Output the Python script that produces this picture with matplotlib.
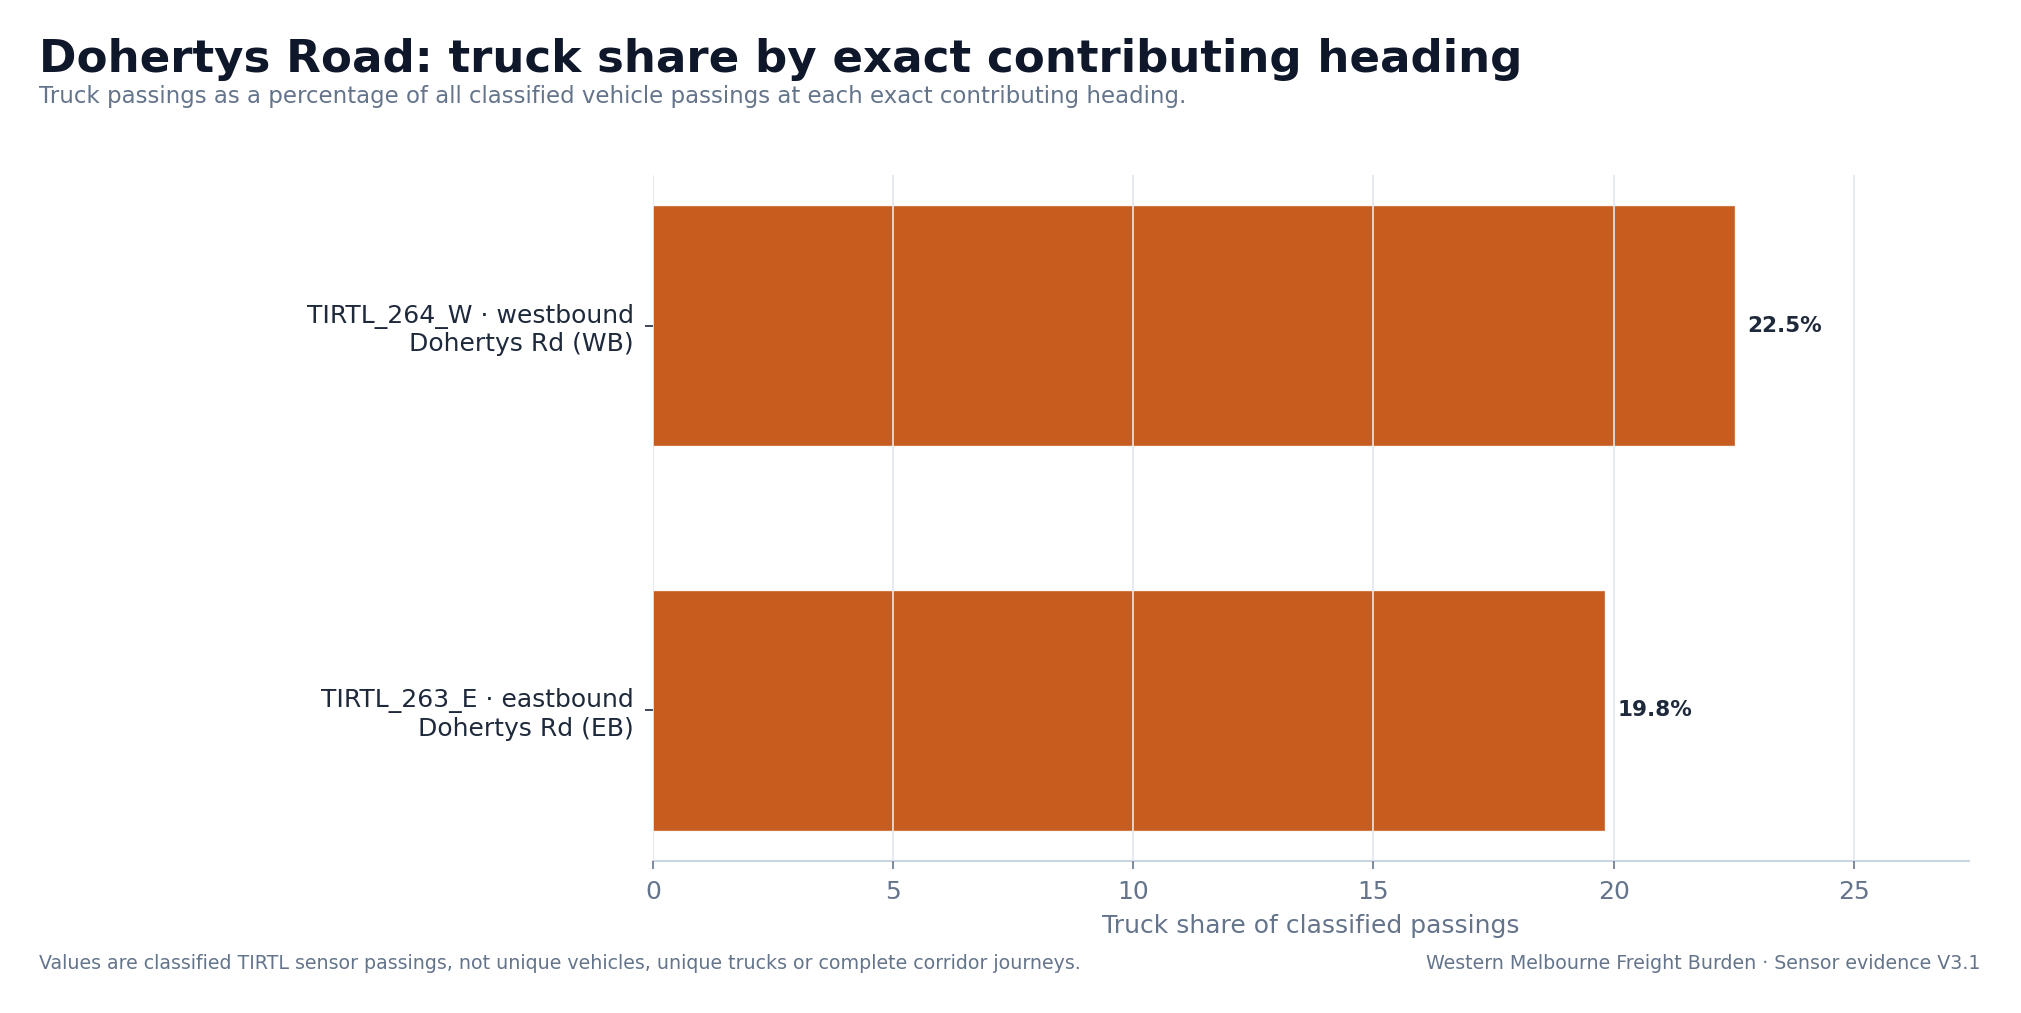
import matplotlib
matplotlib.use("Agg")
import matplotlib.pyplot as plt

plt.rcParams["font.family"] = ["DejaVu Sans"]

categories = ["TIRTL_263_E · eastbound\nDohertys Rd (EB)", "TIRTL_264_W · westbound\nDohertys Rd (WB)"]
values = [19.8, 22.5]
value_labels = ["19.8%", "22.5%"]
xticks = [0, 5, 10, 15, 20, 25]

title = "Dohertys Road: truck share by exact contributing heading"
subtitle = "Truck passings as a percentage of all classified vehicle passings at each exact contributing heading."
xlabel = "Truck share of classified passings"
footer_left = "Values are classified TIRTL sensor passings, not unique vehicles, unique trucks or complete corridor journeys."
footer_right = "Western Melbourne Freight Burden · Sensor evidence V3.1"

W, H = 2021, 1013
fig = plt.figure(figsize=(W / 100, H / 100), dpi=100)
ax = fig.add_axes([653 / W, 1 - 861 / H, (1969 - 653) / W, (861 - 175) / H])

bars = ax.barh(categories, values, height=0.62, color="#c65c1e", edgecolor="#d27a45", linewidth=0.8, zorder=1)
for b, lab in zip(bars, value_labels):
    ax.annotate(lab, (b.get_width(), b.get_y() + b.get_height() / 2), xytext=(9.5, 0),
                textcoords="offset points", va="center", ha="left", fontsize=15.5,
                fontweight="bold", color="#1e293b")

ax.set_xlim(0, 27.4)
ax.set_xticks(xticks)
ax.grid(axis="x", color="#e2e8f0", linewidth=1.2, zorder=2)
ax.set_axisbelow(False)
for s in ["top", "right", "left"]:
    ax.spines[s].set_visible(False)
ax.spines["bottom"].set_color("#cbd5e1")
ax.spines["bottom"].set_linewidth(1.5)
ax.tick_params(axis="x", labelsize=18, colors="#64748b", length=6, width=1.2, pad=8)
ax.tick_params(axis="y", labelsize=18, labelcolor="#1e293b", color="#1e293b", length=6, width=1.2, pad=8)
ax.set_xlabel(xlabel, fontsize=18, color="#64748b", labelpad=7)

fig.text(39 / W, 1 - 59 / H, title, fontsize=32.5, fontweight="bold", color="#0f172a", ha="left", va="center")
fig.text(39 / W, 1 - 97 / H, subtitle, fontsize=16.5, color="#64748b", ha="left", va="center")
fig.text(39 / W, 1 - 963 / H, footer_left, fontsize=13.7, color="#64748b", ha="left", va="center")
fig.text(1981 / W, 1 - 963 / H, footer_right, fontsize=13.7, color="#64748b", ha="right", va="center")

fig.savefig("out.png", dpi=100, facecolor="white")
